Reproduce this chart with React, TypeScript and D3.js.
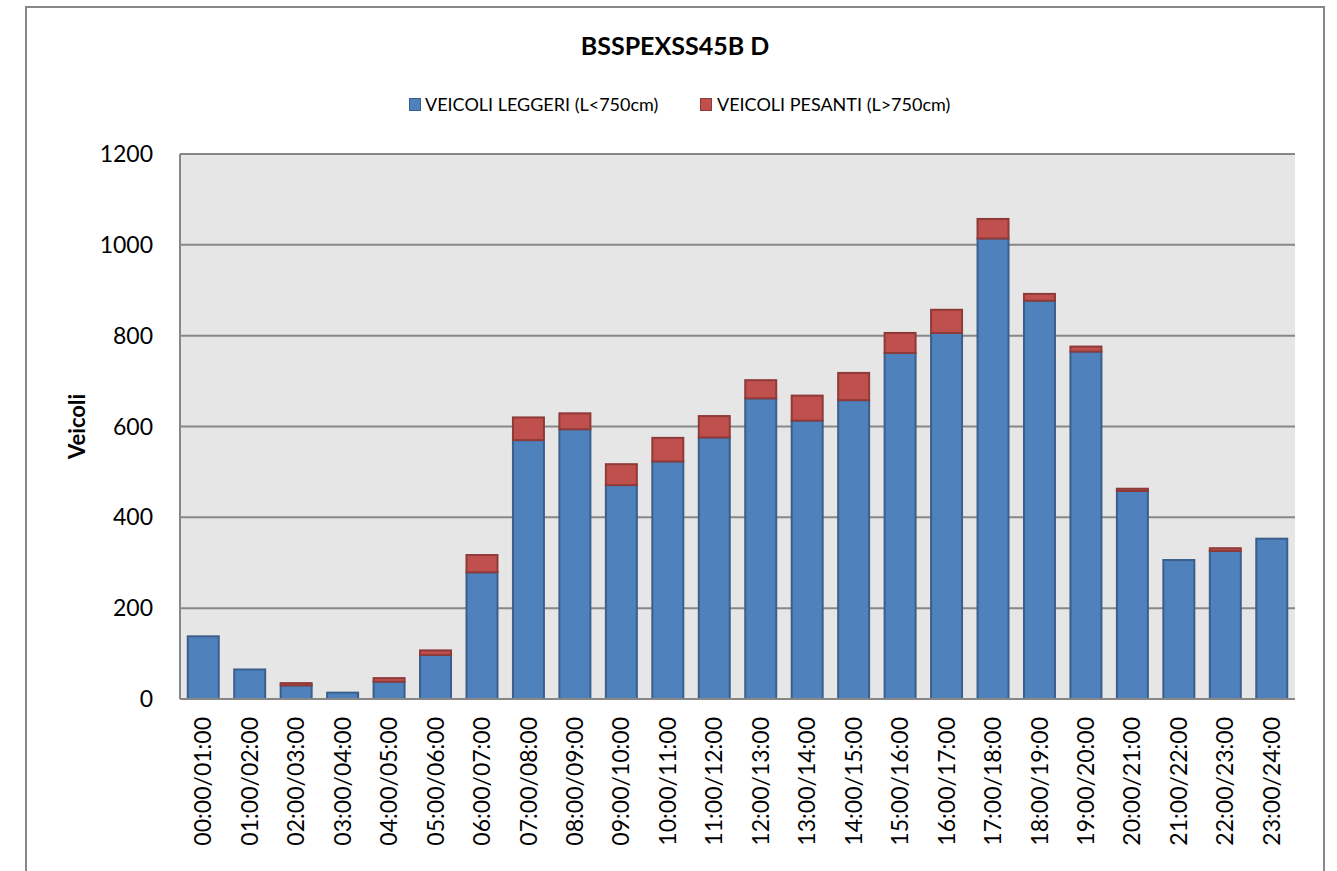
import React from "react";
import * as d3 from "d3";

// fasce orarie e conteggi
const hours = [
  "00:00/01:00", "01:00/02:00", "02:00/03:00", "03:00/04:00", "04:00/05:00", "05:00/06:00",
  "06:00/07:00", "07:00/08:00", "08:00/09:00", "09:00/10:00", "10:00/11:00", "11:00/12:00",
  "12:00/13:00", "13:00/14:00", "14:00/15:00", "15:00/16:00", "16:00/17:00", "17:00/18:00",
  "18:00/19:00", "19:00/20:00", "20:00/21:00", "21:00/22:00", "22:00/23:00", "23:00/24:00"
];
const leggeri = [138, 65, 30, 14, 38, 97, 279, 570, 594, 471, 523, 576, 662, 613, 658, 762, 806, 1014, 877, 765, 458, 306, 326, 353];
const pesanti = [0, 0, 5, 0, 8, 10, 38, 50, 35, 46, 52, 47, 40, 55, 60, 44, 51, 43, 15, 11, 5, 0, 6, 0];
const yTicks = [0, 200, 400, 600, 800, 1000, 1200];
const seriesNames = ["VEICOLI LEGGERI (L<750cm)", "VEICOLI PESANTI (L>750cm)"];
const title = "BSSPEXSS45B D";
const yTitle = "Veicoli";

const W = 1337, H = 871;
const plot = { left: 180, right: 1295, top: 154, bottom: 699 };
const FONT = "Lato, 'Open Sans', sans-serif";

const BLUE = "#4f81bd", BLUE_EDGE = "#3a5f8b";
const RED = "#c0504d", RED_EDGE = "#8e3a38";
const GRID = "#878787";

export default function App() {
  const x = d3.scaleBand<string>()
    .domain(hours)
    .range([plot.left, plot.right])
    .paddingInner(0.333)
    .paddingOuter(0.1667);
  const y = d3.scaleLinear().domain([0, 1200]).range([plot.bottom, plot.top]);
  const bw = x.bandwidth();

  return (
    <svg width={W} height={H} style={{ position: "absolute", left: 0, top: 0 }} fontFamily={FONT}>
      <rect x={0} y={0} width={W} height={H} fill="#fff" />
      <rect x={26} y={7} width={1298} height={H + 20} fill="#fff" stroke={GRID} strokeWidth={2} />

      <text x={675} y={55} textAnchor="middle" fontWeight="bold" fontSize={25} fill="#000">{title}</text>

      {/* legenda */}
      <rect x={409.5} y={98.5} width={11} height={12} fill={BLUE} stroke={BLUE_EDGE} strokeWidth={1} />
      <text x={425} y={111} fontSize={18} fill="#000">{seriesNames[0]}</text>
      <rect x={700.5} y={98.5} width={11} height={12} fill={RED} stroke={RED_EDGE} strokeWidth={1} />
      <text x={717} y={111} fontSize={18} fill="#000">{seriesNames[1]}</text>

      <rect x={plot.left} y={plot.top} width={plot.right - plot.left} height={plot.bottom - plot.top} fill="#e6e6e6" />
      {yTicks.map((t) => (
        <g key={t}>
          <line x1={plot.left} x2={plot.right} y1={y(t)} y2={y(t)} stroke={GRID} strokeWidth={2} />
          <text x={153} y={y(t)} dy="0.35em" textAnchor="end" fontSize={23} fill="#000">{t}</text>
        </g>
      ))}

      {hours.map((h, i) => {
        const x0 = x(h)!;
        const top = leggeri[i] + pesanti[i];
        return (
          <g key={h}>
            <rect x={x0} y={y(leggeri[i])} width={bw} height={y(0) - y(leggeri[i])}
              fill={BLUE} stroke={BLUE_EDGE} strokeWidth={2} />
            {pesanti[i] > 0 && (
              <rect x={x0} y={y(top)} width={bw} height={y(leggeri[i]) - y(top)}
                fill={RED} stroke={RED_EDGE} strokeWidth={2} />
            )}
          </g>
        );
      })}

      <line x1={plot.left} x2={plot.left} y1={plot.top} y2={plot.bottom} stroke={GRID} strokeWidth={2} />
      <line x1={plot.left} x2={plot.right} y1={plot.bottom} y2={plot.bottom} stroke={GRID} strokeWidth={2} />

      {hours.map((h) => (
        <text key={h} transform={`translate(${x(h)! + bw / 2},717) rotate(-90)`}
          dy="0.35em" textAnchor="end" fontSize={23} fill="#000">{h}</text>
      ))}

      <text transform={`translate(77,${(plot.top + plot.bottom) / 2}) rotate(-90)`}
        dy="0.35em" textAnchor="middle" fontWeight="bold" fontSize={22} fill="#000">{yTitle}</text>
    </svg>
  );
}
